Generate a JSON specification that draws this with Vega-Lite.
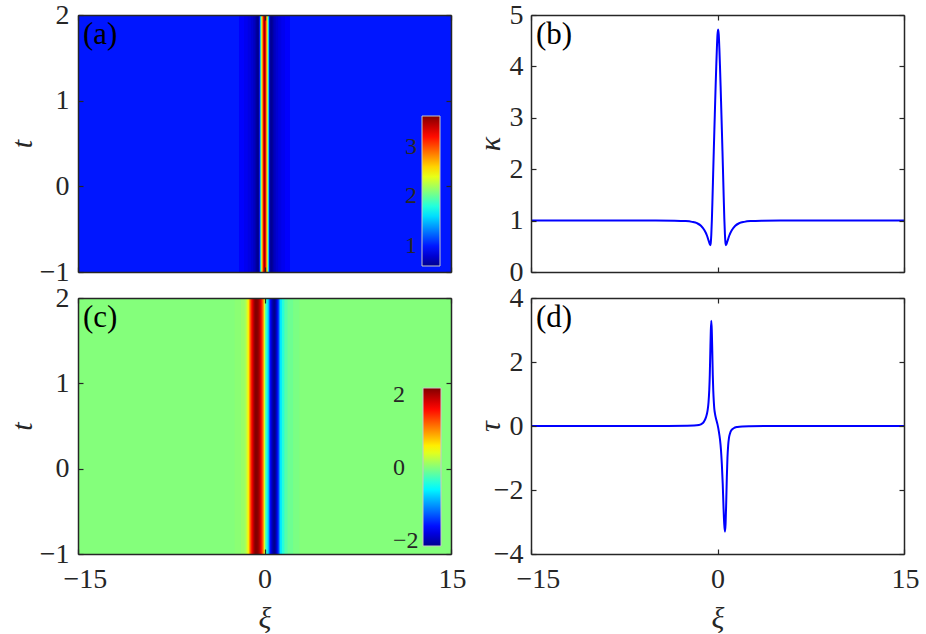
{
  "$schema": "https://vega.github.io/schema/vega-lite/v6.json",
  "padding": {"left": 7, "top": 1, "right": 0, "bottom": 4},
  "background": "white",
  "columns": 2,
  "spacing": {"row": 26, "column": 80},
  "bounds": "flush",
  "resolve": {"scale": {"color": "independent"}, "legend": {"color": "independent"}},
  "config": {
    "view": {"stroke": null},
    "font": "Liberation Serif",
    "axis": {
      "domainColor": "#262626", "domainWidth": 1.5,
      "tickColor": "#262626", "tickWidth": 1.2, "tickSize": -5,
      "labelFont": "Liberation Serif", "labelFontSize": 28, "labelColor": "#262626",
      "titleFont": "Liberation Serif", "titleFontStyle": "italic", "titleFontWeight": "normal",
      "titleFontSize": 30, "titleColor": "#262626", "grid": false
    }
  },
  "datasets": {
    "kappa": [
      {"xi": -15, "k": 1}, {"xi": -5, "k": 1}, {"xi": -3.45, "k": 0.998}, {"xi": -2.55, "k": 0.99},
      {"xi": -2.05, "k": 0.975}, {"xi": -1.65, "k": 0.95}, {"xi": -1.33, "k": 0.9}, {"xi": -1.05, "k": 0.81},
      {"xi": -0.85, "k": 0.71}, {"xi": -0.7, "k": 0.6}, {"xi": -0.58, "k": 0.52}, {"xi": -0.55, "k": 0.55},
      {"xi": -0.5, "k": 0.72}, {"xi": -0.45, "k": 1.03}, {"xi": -0.4, "k": 1.45}, {"xi": -0.35, "k": 1.9},
      {"xi": -0.3, "k": 2.35}, {"xi": -0.25, "k": 2.78}, {"xi": -0.2, "k": 3.2}, {"xi": -0.15, "k": 3.62},
      {"xi": -0.1, "k": 4.0}, {"xi": -0.05, "k": 4.35}, {"xi": 0.0, "k": 4.62}, {"xi": 0.05, "k": 4.72},
      {"xi": 0.1, "k": 4.62}, {"xi": 0.15, "k": 4.35}, {"xi": 0.2, "k": 4.0}, {"xi": 0.25, "k": 3.62},
      {"xi": 0.3, "k": 3.2}, {"xi": 0.35, "k": 2.78}, {"xi": 0.4, "k": 2.35}, {"xi": 0.45, "k": 1.9},
      {"xi": 0.5, "k": 1.45}, {"xi": 0.55, "k": 1.03}, {"xi": 0.6, "k": 0.72}, {"xi": 0.65, "k": 0.55},
      {"xi": 0.68, "k": 0.52}, {"xi": 0.8, "k": 0.6}, {"xi": 0.95, "k": 0.71}, {"xi": 1.15, "k": 0.81},
      {"xi": 1.43, "k": 0.9}, {"xi": 1.75, "k": 0.95}, {"xi": 2.15, "k": 0.975}, {"xi": 2.65, "k": 0.99},
      {"xi": 3.55, "k": 0.998}, {"xi": 5.05, "k": 1}, {"xi": 15, "k": 1}
    ],
    "tau": [
      {"xi": -15, "v": 0}, {"xi": -4, "v": 0}, {"xi": -2.5, "v": 0.005}, {"xi": -1.9, "v": 0.012},
      {"xi": -1.5, "v": 0.03}, {"xi": -1.3, "v": 0.06}, {"xi": -1.1, "v": 0.13}, {"xi": -0.93, "v": 0.27},
      {"xi": -0.8, "v": 0.48}, {"xi": -0.72, "v": 0.75}, {"xi": -0.66, "v": 1.15}, {"xi": -0.62, "v": 1.6},
      {"xi": -0.58, "v": 2.3}, {"xi": -0.54, "v": 2.95}, {"xi": -0.5, "v": 3.29}, {"xi": -0.46, "v": 3.0},
      {"xi": -0.42, "v": 2.35}, {"xi": -0.38, "v": 1.6}, {"xi": -0.34, "v": 1.1}, {"xi": -0.3, "v": 0.78},
      {"xi": -0.26, "v": 0.55}, {"xi": -0.2, "v": 0.38}, {"xi": -0.1, "v": 0.2}, {"xi": 0, "v": 0.05},
      {"xi": 0.1, "v": -0.15}, {"xi": 0.2, "v": -0.42}, {"xi": 0.28, "v": -0.75}, {"xi": 0.35, "v": -1.2},
      {"xi": 0.42, "v": -1.8}, {"xi": 0.48, "v": -2.5}, {"xi": 0.54, "v": -3.05}, {"xi": 0.6, "v": -3.3},
      {"xi": 0.65, "v": -3.05}, {"xi": 0.7, "v": -2.4}, {"xi": 0.75, "v": -1.6}, {"xi": 0.8, "v": -1.0},
      {"xi": 0.86, "v": -0.6}, {"xi": 0.92, "v": -0.38}, {"xi": 1.0, "v": -0.24}, {"xi": 1.1, "v": -0.14},
      {"xi": 1.3, "v": -0.07}, {"xi": 1.6, "v": -0.03}, {"xi": 2.0, "v": -0.012}, {"xi": 2.6, "v": -0.005},
      {"xi": 4, "v": 0}, {"xi": 15, "v": 0}
    ],
    "heatA": [
      {"xi": -15, "k": 1.0}, {"xi": -2.05, "k": 0.93}, {"xi": -1.65, "k": 0.89}, {"xi": -1.35, "k": 0.85},
      {"xi": -1.1, "k": 0.8}, {"xi": -0.9, "k": 0.74}, {"xi": -0.75, "k": 0.69}, {"xi": -0.675, "k": 0.645},
      {"xi": -0.625, "k": 0.62}, {"xi": -0.575, "k": 0.605}, {"xi": -0.525, "k": 0.61}, {"xi": -0.475, "k": 0.68},
      {"xi": -0.425, "k": 0.9}, {"xi": -0.375, "k": 1.35}, {"xi": -0.325, "k": 1.8}, {"xi": -0.275, "k": 2.2},
      {"xi": -0.225, "k": 2.58}, {"xi": -0.175, "k": 2.9}, {"xi": -0.125, "k": 3.18}, {"xi": -0.075, "k": 3.4},
      {"xi": -0.025, "k": 3.6}, {"xi": 0.025, "k": 3.4}, {"xi": 0.075, "k": 3.18}, {"xi": 0.125, "k": 2.9},
      {"xi": 0.175, "k": 2.58}, {"xi": 0.225, "k": 2.2}, {"xi": 0.275, "k": 1.8}, {"xi": 0.325, "k": 1.35},
      {"xi": 0.375, "k": 0.9}, {"xi": 0.425, "k": 0.68}, {"xi": 0.475, "k": 0.61}, {"xi": 0.525, "k": 0.605},
      {"xi": 0.575, "k": 0.62}, {"xi": 0.625, "k": 0.645}, {"xi": 0.675, "k": 0.69}, {"xi": 0.75, "k": 0.74},
      {"xi": 0.9, "k": 0.8}, {"xi": 1.1, "k": 0.85}, {"xi": 1.35, "k": 0.89}, {"xi": 1.65, "k": 0.93},
      {"xi": 2.05, "k": 1.0}
    ],
    "heatC": [
      {"xi": -15, "v": 0}, {"xi": -2.4, "v": 0.03}, {"xi": -1.9, "v": 0.08}, {"xi": -1.6, "v": 0.17},
      {"xi": -1.45, "v": 0.35}, {"xi": -1.35, "v": 0.6}, {"xi": -1.25, "v": 0.95}, {"xi": -1.15, "v": 1.35},
      {"xi": -1.05, "v": 1.68}, {"xi": -0.95, "v": 1.92}, {"xi": -0.85, "v": 2.08}, {"xi": -0.75, "v": 2.17},
      {"xi": -0.65, "v": 2.16}, {"xi": -0.55, "v": 2.08}, {"xi": -0.45, "v": 1.95}, {"xi": -0.35, "v": 1.75},
      {"xi": -0.25, "v": 1.45}, {"xi": -0.15, "v": 1.0}, {"xi": -0.05, "v": 0.35}, {"xi": 0.05, "v": -0.2},
      {"xi": 0.15, "v": -0.45}, {"xi": 0.25, "v": -0.8}, {"xi": 0.35, "v": -1.3}, {"xi": 0.45, "v": -1.7},
      {"xi": 0.55, "v": -1.95}, {"xi": 0.65, "v": -2.1}, {"xi": 0.75, "v": -2.14}, {"xi": 0.85, "v": -2.05},
      {"xi": 0.95, "v": -1.8}, {"xi": 1.05, "v": -1.5}, {"xi": 1.15, "v": -1.0}, {"xi": 1.25, "v": -0.65},
      {"xi": 1.4, "v": -0.4}, {"xi": 1.6, "v": -0.2}, {"xi": 1.85, "v": -0.1}, {"xi": 2.3, "v": -0.04},
      {"xi": 2.8, "v": 0}
    ]
  },
  "concat": [
    {
      "width": 373, "height": 257,
      "resolve": {"axis": {"x": "independent", "y": "independent"}},
      "layer": [
        {
          "data": {"name": "heatA"},
          "mark": {"type": "rect"},
          "encoding": {
            "x": {"field": "xi", "type": "quantitative", "scale": {"domain": [-15, 15], "nice": false, "zero": false},
                  "axis": {"values": [-15, 0, 15], "labels": false, "title": null, "zindex": 1}},
            "x2": {"datum": 15},
            "y": {"datum": -1, "type": "quantitative", "scale": {"domain": [-1, 2], "nice": false, "zero": false},
                  "axis": {"values": [-1, 0, 1, 2], "title": "t", "labelPadding": 14, "titlePadding": 2, "zindex": 1}},
            "y2": {"datum": 2},
            "color": {"field": "k", "type": "quantitative",
              "scale": {"type": "linear", "domain": [0.6, 0.935, 1.702, 2.469, 3.236, 3.62],
                        "range": ["#00008f", "#0000ff", "#00ffff", "#ffff00", "#ff0000", "#800000"], "interpolate": "rgb", "clamp": true, "nice": false, "zero": false},
              "legend": {"type": "gradient", "orient": "none", "legendX": 344, "legendY": 101, "direction": "vertical", "title": null,
                         "gradientLength": 150, "gradientThickness": 18, "values": [1, 2, 3], "format": "d",
                         "labelFont": "Liberation Serif", "labelFontSize": 24, "labelColor": "#262626",
                         "labelOffset": -35, "gradientStrokeColor": "#c8c8c8", "gradientStrokeWidth": 1}}
          }
        },
        {
          "data": {"values": [{"label": "(a)"}]},
          "mark": {"type": "text", "align": "left", "baseline": "top", "dx": 5, "dy": 5, "fontSize": 31, "font": "Liberation Serif", "color": "#000000"},
          "encoding": {
            "x": {"datum": -15, "type": "quantitative", "axis": null},
            "y": {"datum": 2, "type": "quantitative", "axis": null},
            "text": {"field": "label"}
          }
        },
        {
          "data": {"values": [{}]},
          "mark": {"type": "point", "opacity": 0},
          "encoding": {
            "x": {"datum": 0, "type": "quantitative", "axis": {"orient": "top", "values": [-15, 0, 15], "labels": false, "title": null, "zindex": 1}},
            "y": {"datum": 0, "type": "quantitative", "axis": {"orient": "right", "values": [-1, 0, 1, 2], "labels": false, "title": null, "zindex": 1}}
          }
        }
      ]
    },
    {
      "width": 373, "height": 257,
      "resolve": {"axis": {"x": "independent", "y": "independent"}},
      "layer": [
        {
          "data": {"name": "kappa"},
          "mark": {"type": "line", "color": "#0000ff", "strokeWidth": 2, "interpolate": "monotone", "clip": true},
          "encoding": {
            "x": {"field": "xi", "type": "quantitative", "scale": {"domain": [-15, 15], "nice": false, "zero": false},
                  "axis": {"values": [-15, 0, 15], "labels": false, "title": null, "zindex": 1}},
            "y": {"field": "k", "type": "quantitative", "scale": {"domain": [0, 5], "nice": false, "zero": false},
                  "axis": {"values": [0, 1, 2, 3, 4, 5], "title": "κ", "labelPadding": 13, "titlePadding": 4, "zindex": 1}}
          }
        },
        {
          "data": {"values": [{"label": "(b)"}]},
          "mark": {"type": "text", "align": "left", "baseline": "top", "dx": 5, "dy": 5, "fontSize": 31, "font": "Liberation Serif", "color": "#000000"},
          "encoding": {
            "x": {"datum": -15, "type": "quantitative", "axis": null},
            "y": {"datum": 5, "type": "quantitative", "axis": null},
            "text": {"field": "label"}
          }
        },
        {
          "data": {"values": [{}]},
          "mark": {"type": "point", "opacity": 0},
          "encoding": {
            "x": {"datum": 0, "type": "quantitative", "axis": {"orient": "top", "values": [-15, 0, 15], "labels": false, "title": null, "zindex": 1}},
            "y": {"datum": 1, "type": "quantitative", "axis": {"orient": "right", "values": [0, 1, 2, 3, 4, 5], "labels": false, "title": null, "zindex": 1}}
          }
        }
      ]
    },
    {
      "width": 373, "height": 256,
      "resolve": {"axis": {"x": "independent", "y": "independent"}},
      "layer": [
        {
          "data": {"name": "heatC"},
          "mark": {"type": "rect"},
          "encoding": {
            "x": {"field": "xi", "type": "quantitative", "scale": {"domain": [-15, 15], "nice": false, "zero": false},
                  "axis": {"values": [-15, 0, 15], "title": "ξ", "labelPadding": 16, "labelFlush": true, "labelFlushOffset": 15, "titlePadding": 10, "zindex": 1}},
            "x2": {"datum": 15},
            "y": {"datum": -1, "type": "quantitative", "scale": {"domain": [-1, 2], "nice": false, "zero": false},
                  "axis": {"values": [-1, 0, 1, 2], "title": "t", "labelPadding": 14, "titlePadding": 2, "zindex": 1}},
            "y2": {"datum": 2},
            "color": {"field": "v", "type": "quantitative",
              "scale": {"type": "linear", "domain": [-2.15, -1.669, -0.569, 0.53, 1.63, 2.18],
                        "range": ["#00008f", "#0000ff", "#00ffff", "#ffff00", "#ff0000", "#800000"], "interpolate": "rgb", "clamp": true, "nice": false, "zero": false},
              "legend": {"type": "gradient", "orient": "none", "legendX": 345, "legendY": 90, "direction": "vertical", "title": null,
                         "gradientLength": 158, "gradientThickness": 18, "values": [-2, 0, 2], "format": "d",
                         "labelExpr": "datum.value < 0 ? datum.label : '\u2002' + datum.label",
                         "labelFont": "Liberation Serif", "labelFontSize": 24, "labelColor": "#262626",
                         "labelOffset": -48, "gradientStrokeColor": "#c8c8c8", "gradientStrokeWidth": 1}}
          }
        },
        {
          "data": {"values": [{"label": "(c)"}]},
          "mark": {"type": "text", "align": "left", "baseline": "top", "dx": 5, "dy": 5, "fontSize": 31, "font": "Liberation Serif", "color": "#000000"},
          "encoding": {
            "x": {"datum": -15, "type": "quantitative", "axis": null},
            "y": {"datum": 2, "type": "quantitative", "axis": null},
            "text": {"field": "label"}
          }
        },
        {
          "data": {"values": [{}]},
          "mark": {"type": "point", "opacity": 0},
          "encoding": {
            "x": {"datum": 0, "type": "quantitative", "axis": {"orient": "top", "values": [-15, 0, 15], "labels": false, "title": null, "zindex": 1}},
            "y": {"datum": 0, "type": "quantitative", "axis": {"orient": "right", "values": [-1, 0, 1, 2], "labels": false, "title": null, "zindex": 1}}
          }
        }
      ]
    },
    {
      "width": 373, "height": 256,
      "resolve": {"axis": {"x": "independent", "y": "independent"}},
      "layer": [
        {
          "data": {"name": "tau"},
          "mark": {"type": "line", "color": "#0000ff", "strokeWidth": 2, "interpolate": "monotone", "clip": true},
          "encoding": {
            "x": {"field": "xi", "type": "quantitative", "scale": {"domain": [-15, 15], "nice": false, "zero": false},
                  "axis": {"values": [-15, 0, 15], "title": "ξ", "labelPadding": 16, "labelFlush": true, "labelFlushOffset": 15, "titlePadding": 10, "zindex": 1}},
            "y": {"field": "v", "type": "quantitative", "scale": {"domain": [-4, 4], "nice": false, "zero": false},
                  "axis": {"values": [-4, -2, 0, 2, 4], "title": "τ", "labelPadding": 13, "titlePadding": -12, "zindex": 1}}
          }
        },
        {
          "data": {"values": [{"label": "(d)"}]},
          "mark": {"type": "text", "align": "left", "baseline": "top", "dx": 5, "dy": 5, "fontSize": 31, "font": "Liberation Serif", "color": "#000000"},
          "encoding": {
            "x": {"datum": -15, "type": "quantitative", "axis": null},
            "y": {"datum": 4, "type": "quantitative", "axis": null},
            "text": {"field": "label"}
          }
        },
        {
          "data": {"values": [{}]},
          "mark": {"type": "point", "opacity": 0},
          "encoding": {
            "x": {"datum": 0, "type": "quantitative", "axis": {"orient": "top", "values": [-15, 0, 15], "labels": false, "title": null, "zindex": 1}},
            "y": {"datum": 0, "type": "quantitative", "axis": {"orient": "right", "values": [-4, -2, 0, 2, 4], "labels": false, "title": null, "zindex": 1}}
          }
        }
      ]
    }
  ]
}
